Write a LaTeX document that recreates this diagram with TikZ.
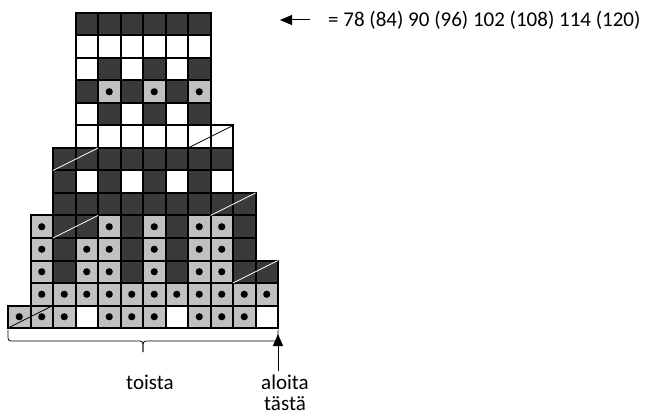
\documentclass[tikz,border=0pt]{standalone}
\usepackage{fontspec}
\setmainfont{Carlito}
\usetikzlibrary{arrows.meta}
\definecolor{cellgray}{HTML}{C0C0C0}
\definecolor{celldark}{HTML}{3A3A3A}
\tikzset{
  cellG/.style={fill=cellgray,draw=black,line width=2pt},
  cellD/.style={fill=celldark,draw=black,line width=2pt},
  cellW/.style={fill=white,draw=black,line width=2pt},
  diag/.style={line width=0.8pt},
  label/.style={inner sep=0pt,font=\fontsize{21}{21}\selectfont},
  tiparrow/.style={line width=1pt,-{Triangle[length=12pt,width=10pt]}}
}
\begin{document}
\begin{tikzpicture}[x=1pt,y=-1pt]
\useasboundingbox (0,0) rectangle (653,414);
\foreach \r/\s/\codes in {
1/1/{G,G,G,W,G,G,G,W,G,G,G,W},
2/2/{G,G,G,G,G,G,G,G,G,G,G},
3/2/{G,D,G,G,D,G,D,G,G,D,D},
4/2/{G,D,G,G,D,G,D,G,G,D},
5/2/{G,D,D,G,D,G,D,G,G,D},
6/3/{D,D,D,D,D,D,D,D,D},
7/3/{D,W,D,W,D,W,D,W},
8/3/{D,D,D,D,D,D,D,D},
9/4/{W,W,W,W,W,W,W},
10/4/{W,D,W,D,W,D},
11/4/{D,G,D,G,D,G},
12/4/{W,D,W,D,W,D},
13/4/{W,W,W,W,W,W},
14/4/{D,D,D,D,D,D}}{
  \foreach \code [count=\i from 0] in \codes {
    \pgfmathsetmacro\xl{8+(\s-1+\i)*22.5}
    \pgfmathsetmacro\yt{328-\r*22.5}
    \draw[cell\code] (\xl,\yt) rectangle ++(22.5,22.5);
    \if G\code \fill ({\xl+11.25},{\yt+11.25}) circle[radius=3.6]; \fi
  }
}
\foreach \r/\a/\col in {1/1/black,3/11/white,5/3/white,6/10/white,8/3/white,9/9/black}{
  \draw[diag,\col] ({8+(\a-1)*22.5},{328-(\r-1)*22.5}) -- ++(45,-22.5);
}
% brace
\coordinate (braceL) at (8,330);
\coordinate (braceR) at (278,330);
\coordinate (braceM) at (143,341);
\coordinate (braceTip) at (143,352);
\draw[line width=0.8pt,rounded corners=3pt] (braceL) |- (braceM) -- (braceTip);
\draw[line width=0.8pt,rounded corners=3pt] (braceR) |- (braceM) -- (braceTip);
% start arrow
\coordinate (startFoot) at (278,371);
\coordinate (startTip) at (278,334);
\draw[tiparrow] (startFoot) -- (startTip);
% legend arrow
\coordinate (legFoot) at (310,20);
\coordinate (legTip) at (280,20);
\draw[tiparrow] (legFoot) -- (legTip);
\node[label,anchor=base west] (legend) at (328,26.7) {= 78 (84) 90 (96) 102 (108) 114 (120)};
\node[label,anchor=base] (toista) at (150,389.5) {toista};
\node[label,anchor=base] (aloita) at (285,389.5) {aloita};
\node[label,anchor=base] (tasta) at (285,410) {tästä};
\end{tikzpicture}
\end{document}
